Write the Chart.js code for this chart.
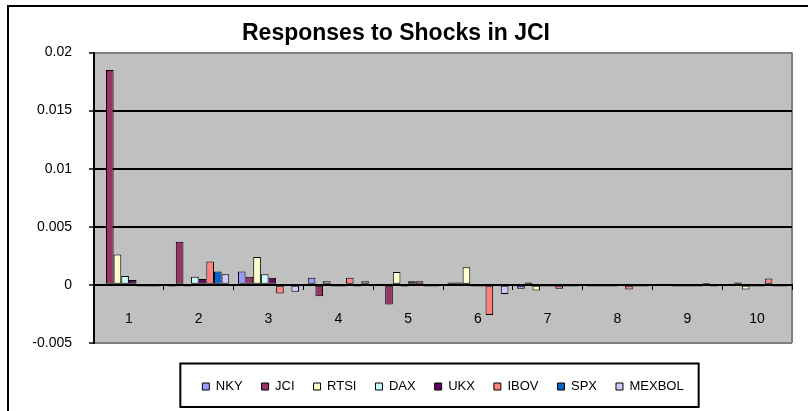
<!DOCTYPE html>
<html>
<head>
<meta charset="utf-8">
<script src="https://cdn.jsdelivr.net/npm/chart.js@4/dist/chart.umd.min.js"></script>
<style>
  body { margin: 0; background: #fff; }
  #wrap { width: 808px; height: 411px; position: relative; }
</style>
</head>
<body>
<div id="wrap"><canvas id="irfChart" width="808" height="411"></canvas></div>
<script>
const periods = ['1', '2', '3', '4', '5', '6', '7', '8', '9', '10'];
const yTicks = [-0.005, 0, 0.005, 0.01, 0.015, 0.02];

const nky    = [0.00002, -0.00015, 0.00115, 0.0006, -0.0001, 0.0002, -0.00035, -0.00015, -0.0001, 0.0001];
const jci    = [0.0185, 0.0037, 0.0007, -0.001, -0.0017, 0.0002, 0.0002, -0.00015, -0.0001, 0.0002];
const rtsi   = [0.0026, -0.00015, 0.0024, 0.0003, 0.0011, 0.0015, -0.0005, -0.00015, -0.00015, -0.0004];
const dax    = [0.00075, 0.0007, 0.0009, -0.00015, -0.00015, -0.00015, -0.00015, -0.00015, -0.00015, -0.00015];
const ukx    = [0.0004, 0.0005, 0.0006, -0.00015, 0.0003, -0.00015, -0.00015, -0.0001, -0.00015, -0.00015];
const ibov   = [-0.00015, 0.002, -0.00075, 0.0006, 0.0003, -0.0026, -0.00035, -0.0004, -0.00015, 0.00055];
const spx    = [-0.00015, 0.00115, -0.0001, -0.00015, -0.00015, -0.0001, -0.00015, -0.00015, 0.00015, -0.00015];
const mexbol = [-0.00015, 0.0009, -0.0006, 0.0003, -0.00015, -0.0008, -0.00015, -0.00015, -0.00015, -0.00015];

Chart.defaults.font.family = '"Liberation Sans", Arial, sans-serif';
Chart.defaults.color = '#000';

// white page, outer chart frame, grey plot area
const frame = {
  id: 'frame',
  beforeDraw(chart) {
    const ctx = chart.ctx;
    const a = chart.chartArea;
    ctx.save();
    ctx.fillStyle = '#fff';
    ctx.fillRect(0, 0, chart.width, chart.height);
    ctx.strokeStyle = '#000';
    ctx.lineWidth = 2;
    ctx.beginPath();
    ctx.moveTo(8, chart.height);
    ctx.lineTo(8, 6);
    ctx.lineTo(chart.width, 6);
    ctx.stroke();
    ctx.fillStyle = '#C0C0C0';
    ctx.fillRect(a.left, a.top, a.right - a.left, a.bottom - a.top);
    ctx.strokeStyle = '#808080';
    ctx.beginPath();
    ctx.moveTo(a.right, a.top);
    ctx.lineTo(a.right, a.bottom);
    ctx.stroke();
    ctx.restore();
  },
  afterDraw(chart) {
    const hb = chart.legend.legendHitBoxes;
    if (!hb || !hb.length) return;
    const last = hb[hb.length - 1];
    const cy = hb[0].top + hb[0].height / 2;
    const ctx = chart.ctx;
    ctx.save();
    ctx.strokeStyle = '#000';
    ctx.lineWidth = 2;
    const left = hb[0].left - 22;
    const right = last.left + last.width + 15;
    ctx.strokeRect(left, cy - 23, right - left, 43.5);
    ctx.restore();
  }
};

function series(label, data, color) {
  return {
    label,
    data,
    backgroundColor: color,
    borderColor: '#000',
    borderWidth: 1,
    borderSkipped: false,
    barPercentage: 1,
    categoryPercentage: 0.875
  };
}

new Chart(document.getElementById('irfChart'), {
  type: 'bar',
  data: {
    labels: periods,
    datasets: [
      series('NKY', nky, '#9999FF'),
      series('JCI', jci, '#993366'),
      series('RTSI', rtsi, '#FFFFCC'),
      series('DAX', dax, '#CCFFFF'),
      series('UKX', ukx, '#660066'),
      series('IBOV', ibov, '#FF8080'),
      series('SPX', spx, '#0066CC'),
      series('MEXBOL', mexbol, '#CCCCFF')
    ]
  },
  options: {
    responsive: false,
    animation: false,
    layout: { padding: { left: 0, right: 16, top: 0, bottom: 8 } },
    plugins: {
      title: {
        display: true,
        text: 'Responses to Shocks in JCI',
        font: { size: 23, weight: 'bold' },
        color: '#000',
        padding: { top: 20, bottom: 5 }
      },
      legend: {
        position: 'bottom',
        fullSize: false,
        title: { display: true, text: '', font: { size: 1 }, padding: { top: 17, bottom: 0 } },
        labels: {
          boxWidth: 7,
          boxHeight: 7,
          padding: 19,
          color: '#000',
          font: { size: 13 }
        }
      },
      tooltip: { enabled: false }
    },
    scales: {
      x: {
        position: { y: 0 },
        grid: {
          drawOnChartArea: false,
          drawTicks: true,
          tickLength: 4,
          color: '#000',
          lineWidth: 1
        },
        border: { color: '#000', width: 2 },
        ticks: { font: { size: 14 }, color: '#000', padding: 22, maxRotation: 0 }
      },
      y: {
        min: -0.005,
        max: 0.02,
        afterBuildTicks(scale) {
          scale.ticks = yTicks.map(v => ({ value: v }));
        },
        afterFit(scale) {
          scale.width = 94;
        },
        grid: {
          color: ctx => (ctx.tick && (ctx.tick.value === 0.02 || ctx.tick.value === -0.005)) ? '#808080' : '#000',
          lineWidth: 2,
          tickColor: '#000',
          tickLength: 5,
          tickWidth: 1.5
        },
        border: { color: '#000', width: 2 },
        ticks: {
          font: { size: 14 },
          color: '#000',
          padding: 17,
          callback: v => String(v)
        }
      }
    }
  },
  plugins: [frame]
});
</script>
</body>
</html>
